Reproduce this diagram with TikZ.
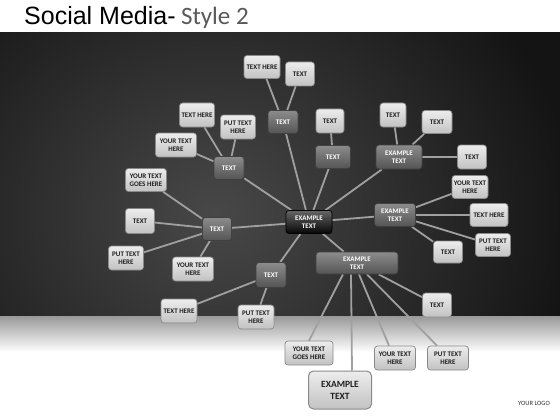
\documentclass[tikz,border=0pt]{standalone}
\usepackage{fontspec}
\setmainfont{Carlito}
\newfontfamily\arialf{Liberation Sans}
\definecolor{lgtop}{HTML}{EDEDED}
\definecolor{lgbot}{HTML}{C2C2C2}
\definecolor{lgborder}{HTML}{8A8A8A}
\definecolor{lgtext}{HTML}{1E1E1E}
\definecolor{gtop}{HTML}{8C8C8C}
\definecolor{gbot}{HTML}{545454}
\definecolor{gborder}{HTML}{404040}
\definecolor{ctop}{HTML}{666666}
\definecolor{cbot}{HTML}{050505}
\definecolor{lncol}{HTML}{A0A0A0}
\definecolor{bginner}{HTML}{484848}
\definecolor{bgouter}{HTML}{141414}
\definecolor{floortop}{HTML}{999999}
\definecolor{titlegray}{HTML}{595959}
\pgfdeclarelayer{back}
\pgfdeclarelayer{lines}
\pgfsetlayers{back,lines,main}
\begin{document}
\begin{tikzpicture}[x=1pt,y=-1pt,
  lbox/.style={draw=lgborder, line width=0.7pt, rounded corners=3pt,
    top color=lgtop, bottom color=lgbot, text=lgtext,
    font=\bfseries\fontsize{7}{8}\selectfont, align=center,
    inner sep=1pt, minimum height=23pt},
  gbox/.style={draw=gborder, line width=0.7pt, rounded corners=3pt,
    top color=gtop, bottom color=gbot, text=white,
    font=\bfseries\fontsize{7}{8.2}\selectfont, align=center,
    inner sep=1pt, minimum height=23pt},
  cbox/.style={draw=black, line width=0.7pt, rounded corners=3pt,
    top color=ctop, bottom color=cbot, text=white,
    font=\bfseries\fontsize{7}{8.4}\selectfont, align=center,
    inner sep=1pt, minimum height=23pt},
  bigbox/.style={draw=lgborder, line width=1pt, rounded corners=5pt,
    top color=lgtop, bottom color=lgbot, text=lgtext,
    font=\bfseries\fontsize{9.5}{12}\selectfont, align=center,
    inner sep=1pt},
  conn/.style={draw=lncol, line width=1.8pt}
]
\useasboundingbox (0,0) rectangle (560,420);
\begin{pgfonlayer}{back}
  \fill[white] (0,0) rectangle (560,420);
  \begin{scope}
    \clip (0,33) rectangle (560,316);
    \shade[inner color=bginner, outer color=bgouter] (-145,-105) rectangle (575,535);
  \end{scope}
  \shade[top color=floortop, bottom color=white] (0,316) rectangle (560,352);
\end{pgfonlayer}

% title
\node[anchor=base west, inner sep=0pt, font=\arialf\fontsize{25}{28}\selectfont, text=black] (title) at (24,25) {Social Media-};
\node[anchor=base west, inner sep=0pt, font=\fontsize{25}{28}\selectfont, text=titlegray] (subtitle) at ([xshift=5pt]title.base east) {Style 2};
\node[font=\fontsize{6.5}{8}\selectfont, text=black!80, inner sep=0pt] (logo) at (534,403) {YOUR LOGO};

% central
\node[cbox, minimum width=46pt] (c) at (309,222) {EXAMPLE\\TEXT};

% gray nodes
\node[gbox, minimum width=30pt] (g1) at (283,122) {TEXT};
\node[gbox, minimum width=30pt] (g2) at (229,168) {TEXT};
\node[gbox, minimum width=29pt] (g3) at (217,229) {TEXT};
\node[gbox, minimum width=30pt, minimum height=25pt] (g4) at (271,275) {TEXT};
\node[gbox, minimum width=35pt] (g5) at (333,157) {TEXT};
\node[gbox, minimum width=46pt, minimum height=24pt] (g6) at (399,157) {EXAMPLE\\TEXT};
\node[gbox, minimum width=41pt] (g7) at (395,215) {EXAMPLE\\TEXT};
\node[gbox, minimum width=82pt, minimum height=22pt] (g8) at (357,263) {EXAMPLE\\TEXT};

% light nodes
\node[lbox, minimum width=36pt] (t1) at (262,67) {TEXT HERE};
\node[lbox, minimum width=29pt, minimum height=24pt] (t2) at (300,74) {TEXT};
\node[lbox, minimum width=35pt, minimum height=24pt] (l1) at (197,115) {TEXT HERE};
\node[lbox, minimum width=35pt, minimum height=24pt] (l2) at (238,127) {PUT TEXT\\HERE};
\node[lbox, minimum width=41pt, minimum height=24pt] (l3) at (176,145) {YOUR TEXT\\HERE};
\node[lbox, minimum width=41pt] (l4) at (146,180) {YOUR TEXT\\GOES HERE};
\node[lbox, minimum width=29pt, minimum height=25pt] (m1) at (140,221) {TEXT};
\node[lbox, minimum width=35pt, minimum height=24pt] (m2) at (126,258) {PUT TEXT\\HERE};
\node[lbox, minimum width=41pt, minimum height=24pt] (m3) at (193,269) {YOUR TEXT\\HERE};
\node[lbox, minimum width=36pt, minimum height=24pt] (b1) at (179,311) {TEXT HERE};
\node[lbox, minimum width=36pt, minimum height=24pt] (b2) at (256,317) {PUT TEXT\\HERE};
\node[lbox, minimum width=28pt, minimum height=24pt] (r1) at (330,121) {TEXT};
\node[lbox, minimum width=26pt, minimum height=24pt] (r2) at (393,115) {TEXT};
\node[lbox, minimum width=30pt] (r3) at (437,122) {TEXT};
\node[lbox, minimum width=29pt, minimum height=24pt] (r4) at (472,157) {TEXT};
\node[lbox, minimum width=36pt] (r5) at (470,187) {YOUR TEXT\\HERE};
\node[lbox, minimum width=38pt] (r6) at (489,215) {TEXT HERE};
\node[lbox, minimum width=35pt] (r7) at (493,245) {PUT TEXT\\HERE};
\node[lbox, minimum width=29pt, minimum height=22pt] (r8) at (448,252) {TEXT};
\node[lbox, minimum width=29pt, minimum height=24pt] (s1) at (437,305) {TEXT};
\node[lbox, minimum width=48pt, minimum height=24pt] (s2) at (309,353) {YOUR TEXT\\GOES HERE};
\node[lbox, minimum width=41pt, minimum height=24pt] (s3) at (395,358) {YOUR TEXT\\HERE};
\node[lbox, minimum width=41pt, minimum height=24pt] (s4) at (448,358) {PUT TEXT\\HERE};
\node[bigbox, minimum width=63pt, minimum height=38pt] (big) at (340,390) {EXAMPLE\\TEXT};

\begin{pgfonlayer}{lines}
  \draw[conn] (t1) -- (g1);
  \draw[conn] (t2) -- (g1);
  \draw[conn] (g1) -- (c);
  \draw[conn] (l1) -- (g2);
  \draw[conn] (l2) -- (g2);
  \draw[conn] (l3) -- (g2);
  \draw[conn] (g2) -- (c);
  \draw[conn] (l4) -- (g3);
  \draw[conn] (m1) -- (g3);
  \draw[conn] (m2) -- (g3);
  \draw[conn] (m3) -- (g3);
  \draw[conn] (g3) -- (c);
  \draw[conn] (b1) -- (g4);
  \draw[conn] (b2) -- (g4);
  \draw[conn] (g4) -- (c);
  \draw[conn] (r1) -- (g5);
  \draw[conn] (g5) -- (c);
  \draw[conn] (r2) -- (g6);
  \draw[conn] (r3) -- (g6);
  \draw[conn] (g6) -- (r4);
  \draw[conn] (g6) -- (c);
  \draw[conn] (c) -- (g7);
  \draw[conn] (g7) -- (r5);
  \draw[conn] (g7) -- (r6);
  \draw[conn] (g7) -- (r7);
  \draw[conn] (g7) -- (r8);
  \draw[conn] (c) -- (g8);
  \draw[conn] (g8) -- (s1);
  \draw[conn] ([xshift=-14pt]g8.south) -- (s2.north);
  \draw[conn] ([xshift=-6pt]g8.south) -- ([xshift=12pt]big.north);
  \draw[conn] ([xshift=2pt]g8.south) -- ([xshift=-6pt]s3.north);
  \draw[conn] ([xshift=10pt]g8.south) -- ([xshift=-11pt]s4.north);
\end{pgfonlayer}
\end{tikzpicture}
\end{document}
